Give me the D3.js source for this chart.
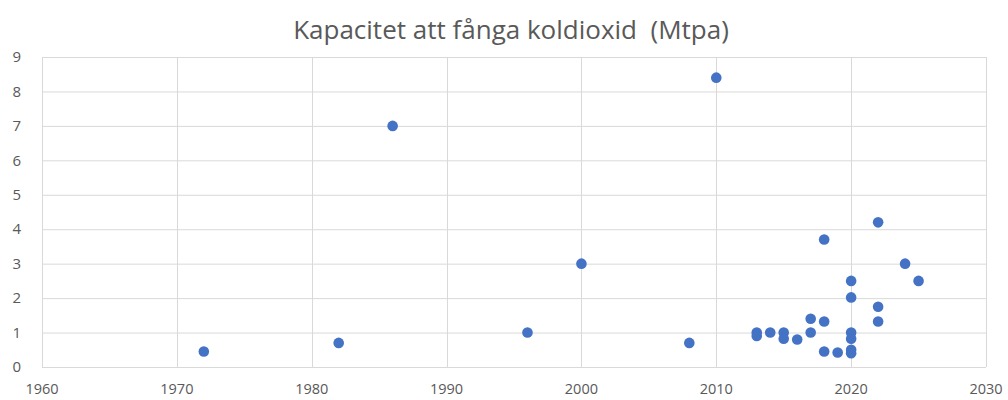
<!DOCTYPE html>
<html>
<head>
<meta charset="utf-8">
<script src="https://cdn.jsdelivr.net/npm/d3@7"></script>
<style>
  body { margin: 0; background: #fff; }
  svg { display: block; }
</style>
</head>
<body>
<svg id="chart"></svg>
<script>
// Data
const years = [1972, 1982, 1986, 1996, 2000, 2008, 2010,
    2013, 2013, 2014, 2015, 2015, 2016, 2017, 2017,
    2018, 2018, 2018, 2019,
    2020, 2020, 2020, 2020, 2020, 2020,
    2022, 2022, 2022, 2024, 2025];
const capacity = [0.45, 0.7, 7.0, 1.0, 3.0, 0.7, 8.4,
    1.0, 0.9, 1.0, 1.0, 0.82, 0.8, 1.4, 1.0,
    3.7, 1.32, 0.45, 0.42,
    2.5, 2.02, 1.0, 0.82, 0.5, 0.4,
    4.2, 1.75, 1.32, 3.0, 2.5];
const xTicks = [1960, 1970, 1980, 1990, 2000, 2010, 2020, 2030];
const yTicks = [0, 1, 2, 3, 4, 5, 6, 7, 8, 9];
const title = "Kapacitet att fånga koldioxid  (Mtpa)";

const W = 1008, H = 400;
const margin = {top: 57, right: 22, bottom: 33, left: 42};
const width = W - margin.left - margin.right,
      height = H - margin.top - margin.bottom;

const x = d3.scaleLinear().domain([1960, 2030]).range([0, width]);
const y = d3.scaleLinear().domain([0, 9]).range([height, 0]);

const svg = d3.select("#chart").attr("width", W).attr("height", H);

svg.append("text")
    .attr("x", 511).attr("y", 39)
    .attr("text-anchor", "middle")
    .style("font-family", "'Open Sans', sans-serif")
    .style("font-size", "26px")
    .style("white-space", "pre")
    .style("fill", "#595959")
    .text(title);

const g = svg.append("g")
    .attr("transform", "translate(" + margin.left + "," + margin.top + ")");

// grid lines
g.selectAll(".hgrid").data(yTicks).enter().append("line")
    .attr("x1", 0).attr("x2", width)
    .attr("y1", d => y(d) + 0.5).attr("y2", d => y(d) + 0.5)
    .style("stroke", "#d9d9d9").style("stroke-width", 1);
g.selectAll(".vgrid").data(xTicks).enter().append("line")
    .attr("y1", 0).attr("y2", height)
    .attr("x1", d => Math.round(x(d)) + 0.5).attr("x2", d => Math.round(x(d)) + 0.5)
    .style("stroke", "#d9d9d9").style("stroke-width", 1);

// tick labels
g.selectAll(".ylab").data(yTicks).enter().append("text")
    .attr("x", -21).attr("y", d => y(d)).attr("dy", "0.35em")
    .attr("text-anchor", "end")
    .style("font-family", "'Open Sans', sans-serif")
    .style("font-size", "15px").style("fill", "#595959")
    .text(d => d);
g.selectAll(".xlab").data(xTicks).enter().append("text")
    .attr("x", d => x(d)).attr("y", height + 27)
    .attr("text-anchor", "middle")
    .style("font-family", "'Open Sans', sans-serif")
    .style("font-size", "14.5px").style("fill", "#595959")
    .text(d => d);

// points
const pts = years.map((yr, i) => ({year: yr, value: capacity[i]}));
g.selectAll(".dot").data(pts).enter().append("circle")
    .attr("cx", d => x(d.year))
    .attr("cy", d => y(d.value))
    .attr("r", 5.3)
    .style("fill", "#4472c4");
</script>
</body>
</html>
